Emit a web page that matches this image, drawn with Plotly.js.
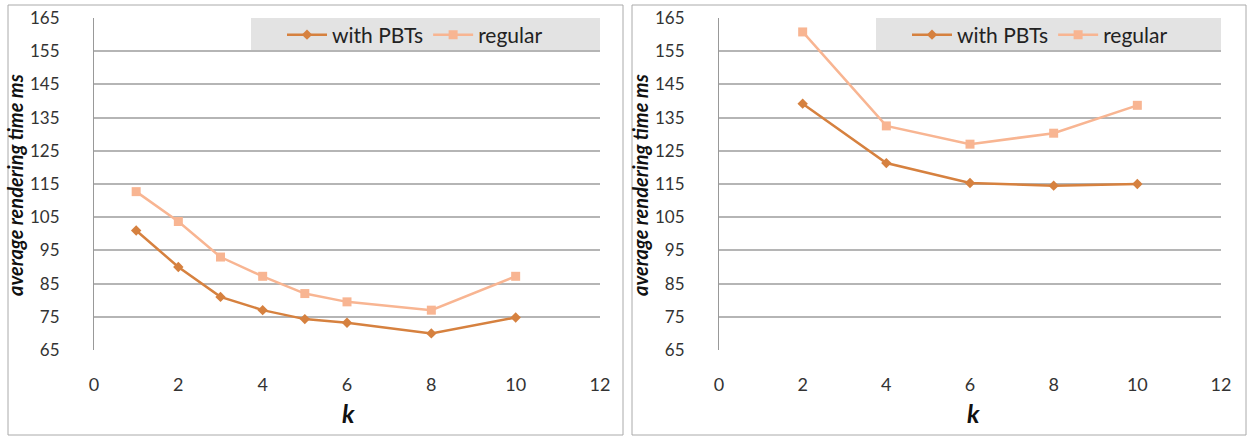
<!DOCTYPE html>
<html>
<head>
<script src="https://cdn.plot.ly/plotly-3.0.1.min.js"></script>
<style>body{margin:0}#chart{width:1248px;height:437px}</style>
</head>
<body>
<div id="chart"></div>
<script>
var kLeft = [1, 2, 3, 4, 5, 6, 8, 10];
var pbtLeft = [101, 90, 81, 77, 74.3, 73.2, 70, 74.8];
var regLeft = [112.7, 103.7, 93, 87.2, 82, 79.5, 77, 87.2];

var kRight = [2, 4, 6, 8, 10];
var pbtRight = [139.2, 121.3, 115.3, 114.5, 115];
var regRight = [160.8, 132.5, 127, 130.3, 138.7];

var dark = "#D6813F";
var light = "#F8B592";
var W = 1248, H = 437;
function px(x) { return x / W; }
function py(y) { return 1 - y / H; }

var data = [
  {x: kLeft, y: pbtLeft, name: "with PBTs", mode: "lines+markers", line: {color: dark, width: 2.5},
   marker: {symbol: "diamond", size: 8, color: dark}, xaxis: "x", yaxis: "y", legend: "legend"},
  {x: kLeft, y: regLeft, name: "regular", mode: "lines+markers", line: {color: light, width: 2.5},
   marker: {symbol: "square", size: 9, color: light}, xaxis: "x", yaxis: "y", legend: "legend"},
  {x: kRight, y: pbtRight, name: "with PBTs", mode: "lines+markers", line: {color: dark, width: 2.5},
   marker: {symbol: "diamond", size: 8, color: dark}, xaxis: "x2", yaxis: "y2", legend: "legend2"},
  {x: kRight, y: regRight, name: "regular", mode: "lines+markers", line: {color: light, width: 2.5},
   marker: {symbol: "square", size: 9, color: light}, xaxis: "x2", yaxis: "y2", legend: "legend2"}
];

var xax = {range: [0, 12], dtick: 2, showgrid: false, zeroline: false, showline: false,
  ticks: "outside", ticklen: 18, tickcolor: "rgba(0,0,0,0)", tickfont: {size: 18, color: "#333"}};
var yax = {range: [65, 165], dtick: 10, tick0: 65, gridcolor: "#b5b5b5", gridwidth: 1.5, zeroline: false,
  showline: true, linecolor: "#999", ticks: "", ticklabelstandoff: 30,
  tickfont: {size: 17, color: "#333"}};
var leg = {orientation: "h", yanchor: "middle", bgcolor: "rgba(0,0,0,0)",
  font: {size: 21, color: "#222"}, itemwidth: 40, tracegroupgap: 0};

function title(text, x, y, angle, size) {
  return {text: text, xref: "paper", yref: "paper", x: px(x), y: py(y), xanchor: "center", yanchor: "middle",
    textangle: angle, showarrow: false, font: {size: size, color: "#111"}};
}

var layout = {
  width: W, height: H,
  margin: {l: 0, r: 0, t: 0, b: 0},
  paper_bgcolor: "white", plot_bgcolor: "white",
  font: {family: "Lato, sans-serif"},
  xaxis: Object.assign({}, xax, {domain: [px(94), px(600)], anchor: "y"}),
  yaxis: Object.assign({}, yax, {domain: [py(350), py(18)], anchor: "x"}),
  xaxis2: Object.assign({}, xax, {domain: [px(719), px(1221)], anchor: "y2"}),
  yaxis2: Object.assign({}, yax, {domain: [py(350), py(18)], anchor: "x2"}),
  showlegend: true,
  legend: Object.assign({}, leg, {x: px(282), y: py(35)}),
  legend2: Object.assign({}, leg, {x: px(907), y: py(35)}),
  shapes: [
    {type: "rect", xref: "paper", yref: "paper", x0: px(8), x1: px(623), y0: py(435), y1: py(5),
     line: {color: "#aaa", width: 1}, layer: "below"},
    {type: "rect", xref: "paper", yref: "paper", x0: px(632), x1: px(1246), y0: py(435), y1: py(5),
     line: {color: "#aaa", width: 1}, layer: "below"},
    {type: "rect", xref: "paper", yref: "paper", x0: px(251), x1: px(600), y0: py(51), y1: py(18),
     fillcolor: "#e3e3e3", line: {width: 0}, layer: "below"},
    {type: "rect", xref: "paper", yref: "paper", x0: px(876), x1: px(1221), y0: py(51), y1: py(18),
     fillcolor: "#e3e3e3", line: {width: 0}, layer: "below"}
  ],
  annotations: [
    title("<b><i>average rendering time ms</i></b>", 15, 185, -90, 20),
    title("<b><i>average rendering time ms</i></b>", 640, 185, -90, 20),
    title("<b><i>k</i></b>", 348, 413, 0, 25),
    title("<b><i>k</i></b>", 973, 413, 0, 25)
  ]
};

Plotly.newPlot("chart", data, layout, {displayModeBar: false});
</script>
</body>
</html>
